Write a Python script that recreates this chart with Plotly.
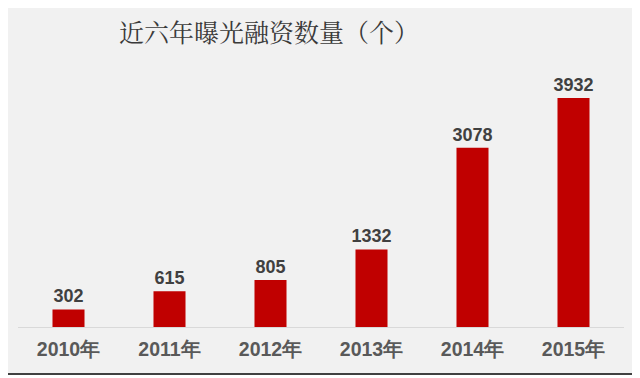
import plotly.graph_objects as go

categories = ["2010年", "2011年", "2012年", "2013年", "2014年", "2015年"]
values = [302, 615, 805, 1332, 3078, 3932]
title_text = "近六年曝光融资数量（个）"

W, H = 640, 378
OFF = 8  # page body margin offset
L, R, T, B = 18 - OFF, 24, 60 - OFF, 59
pw, ph = W - L - R, H - T - B

def px_x(px):
    return (px - OFF - L) / pw

def px_y(py):
    return (H - B - (py - OFF)) / ph

fig = go.Figure(go.Bar(
    x=categories, y=values,
    marker=dict(color="#c00000", line=dict(width=0)),
    text=[str(v) for v in values], textposition="outside", constraintext="none",
    textfont=dict(family="Liberation Sans, Arial, sans-serif", size=18, color="#404040"),
    texttemplate="<b>%{text}</b>", cliponaxis=False, width=0.317,
))

fig.update_layout(
    width=W, height=H,
    margin=dict(l=L, r=R, t=T, b=B),
    paper_bgcolor="white", plot_bgcolor="rgba(0,0,0,0)",
    showlegend=False,
    title=dict(text=title_text, x=(119 - OFF) / W, xanchor="left", y=1 - (33 - OFF) / H, yanchor="middle",
               xref="container", yref="container",
               font=dict(family="Noto Serif CJK SC, Noto Sans CJK SC, serif", size=25, color="#3a3a3a")),
    xaxis=dict(showgrid=False, showline=True, linecolor="#d9d9d9", linewidth=1,
               ticks="", ticklabelstandoff=5,
               tickfont=dict(family="Liberation Sans, Arial, sans-serif", size=19.5, color="#595959"),
               tickprefix="<b>", ticksuffix="</b>"),
    yaxis=dict(visible=False, range=[0, ph / 0.05824], fixedrange=True),
    shapes=[
        dict(type="rect", xref="paper", yref="paper", x0=px_x(1), x1=px_x(635), y0=px_y(373), y1=px_y(1),
             fillcolor="#f1f1f1", line=dict(width=0), layer="below"),
        dict(type="line", xref="paper", yref="paper", x0=px_x(635), x1=px_x(635), y0=px_y(374), y1=px_y(1),
             line=dict(color="#404040", width=2), layer="below"),
        dict(type="line", xref="paper", yref="paper", x0=px_x(1), x1=px_x(636), y0=px_y(374), y1=px_y(374),
             line=dict(color="#404040", width=2), layer="below"),
    ],
)

fig.write_html("out.html")
